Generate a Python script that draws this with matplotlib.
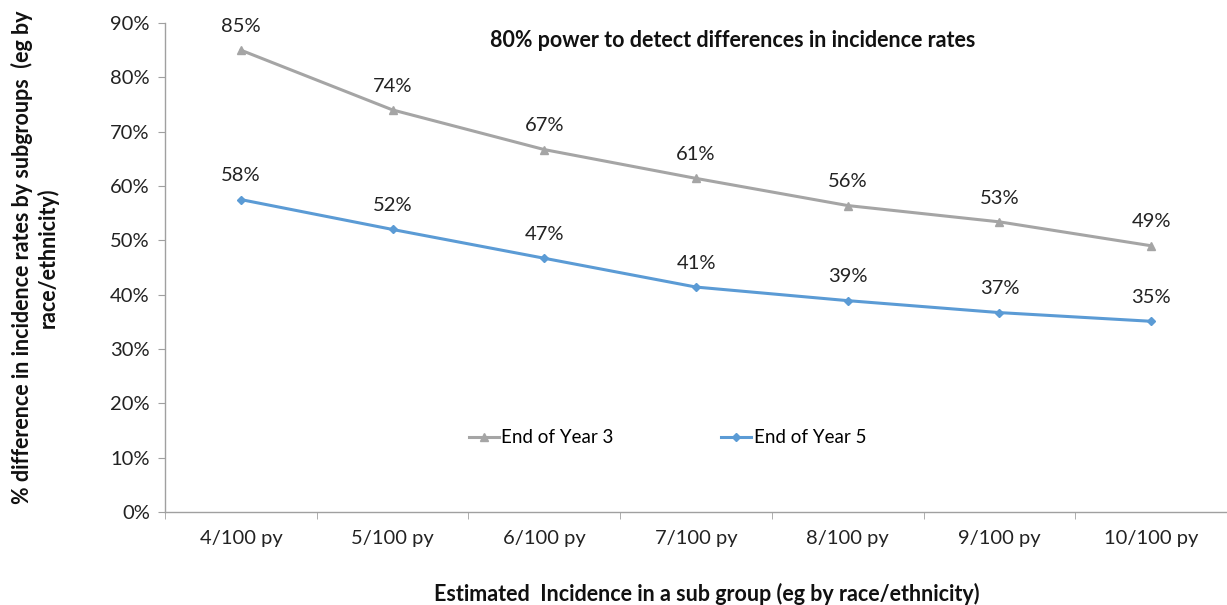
import matplotlib
matplotlib.use("Agg")
import matplotlib.pyplot as plt
import numpy as np

categories = ["4/100 py", "5/100 py", "6/100 py", "7/100 py", "8/100 py", "9/100 py", "10/100 py"]
year3 = [85.0, 74.0, 66.7, 61.4, 56.4, 53.4, 49.0]
year5 = [57.5, 52.0, 46.7, 41.4, 38.9, 36.7, 35.1]
year3_labels = ["85%", "74%", "67%", "61%", "56%", "53%", "49%"]
year5_labels = ["58%", "52%", "47%", "41%", "39%", "37%", "35%"]
yticks = [0, 10, 20, 30, 40, 50, 60, 70, 80, 90]

plt.rcParams['font.family'] = ['Lato', 'DejaVu Sans']

fig = plt.figure(figsize=(12.27, 6.05), dpi=100)
ax = fig.add_axes([0.1345, 0.1537, 0.8655, 0.8083])

x = np.arange(len(categories))
grey = "#A5A5A5"
blue = "#5B9BD5"
ax.plot(x, year3, color=grey, lw=2.2, marker="^", ms=6, label="End of Year 3")
ax.plot(x, year5, color=blue, lw=2.2, marker="D", ms=4.5, label="End of Year 5")

fs = 14.5
for xi, v, t in zip(x, year3, year3_labels):
    ax.annotate(t, (xi, v), xytext=(0, 11), textcoords="offset points", ha="center", va="bottom", fontsize=fs, color="#222222")
for xi, v, t in zip(x, year5, year5_labels):
    ax.annotate(t, (xi, v), xytext=(0, 11), textcoords="offset points", ha="center", va="bottom", fontsize=fs, color="#222222")

ax.set_xlim(-0.5, len(categories) - 0.5)
ax.set_ylim(0, 90)
ax.set_yticks(yticks)
ax.set_yticklabels([f"{t}%" for t in yticks], fontsize=fs, color="#222222")
ax.set_xticks(x)
ax.set_xticklabels(categories, fontsize=fs, color="#222222")
ax.tick_params(axis="x", which="major", length=0, pad=13)
ax.set_xticks(np.arange(-0.5, len(categories), 1.0), minor=True)
ax.tick_params(axis="x", which="minor", length=5, color="#A0A0A0", direction="out")
ax.tick_params(axis="y", length=5, color="#A0A0A0", direction="out", pad=6)

for s in ["top", "right"]:
    ax.spines[s].set_visible(False)
for s in ["left", "bottom"]:
    ax.spines[s].set_color("#A0A0A0")
    ax.spines[s].set_linewidth(1.0)

bfs = 15.5
ax.text(0.535, 0.965, "80% power to detect differences in incidence rates", transform=ax.transAxes,
        ha="center", va="center", fontsize=bfs, fontweight="bold", color="#111111")

ax.set_ylabel("% difference in incidence rates by subgroups  (eg by\nrace/ethnicity)", fontsize=bfs,
              fontweight="bold", color="#111111")
ax.yaxis.set_label_coords(-0.1, 0.52)
ax.set_xlabel("Estimated  Incidence in a sub group (eg by race/ethnicity)", fontsize=bfs,
              fontweight="bold", color="#111111")
ax.xaxis.set_label_coords(0.51, -0.145)

leg = ax.legend(loc="center", bbox_to_anchor=(0.473, 0.152), ncol=2, frameon=False, fontsize=13.5,
                handlelength=1.6, columnspacing=5.7, handletextpad=0.15)

fig.savefig("out.png", dpi=100)
